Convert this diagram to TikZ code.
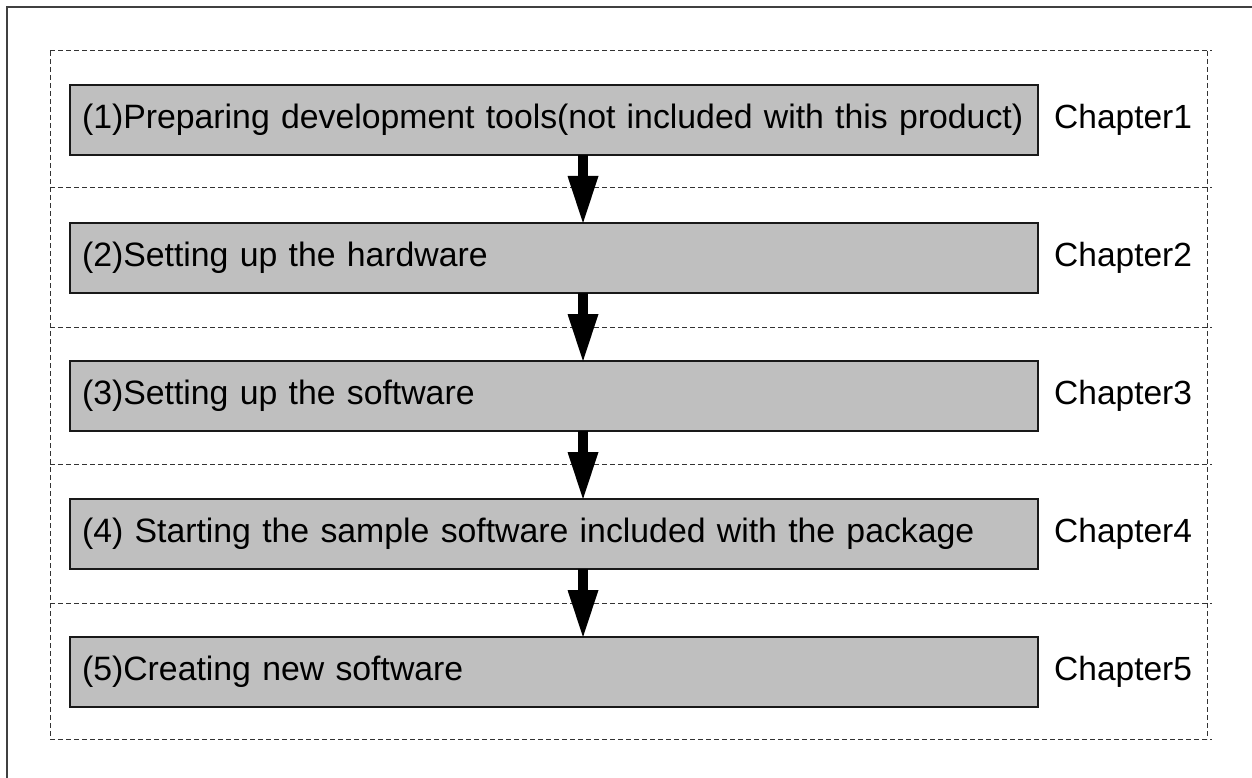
\documentclass[tikz,border=0pt]{standalone}
\usepackage{fontspec}
\setmainfont{Liberation Sans}
\usetikzlibrary{arrows.meta, positioning}

\begin{document}
\begin{tikzpicture}[
  x=1pt, y=-1pt,
  node distance=68pt and 16pt,
  font=\fontsize{33.5}{40}\selectfont,
  stepbox/.style={
    rectangle, draw=black!90, fill=black!25,
    line width=2pt, outer sep=0pt,
    text width=944pt, inner xsep=12pt, inner ysep=0pt,
    minimum height=70pt, align=left,
    font=\fontsize{33.8}{40}\selectfont
  },
  chap/.style={inner sep=0pt, anchor=west},
  sep/.style={draw=black!80, line width=1pt, dash pattern=on 5pt off 3pt},
  arrow/.style={line width=10pt,
    -{Triangle[length=47pt, width=31pt, line width=0pt]}}
]
\useasboundingbox (0,0) rectangle (1252,778);

%% Outer frame
\draw[black!75, line width=2pt] (7,778) -- (7,7) -- (1252,7);

%% Dashed frame and separators
\draw[sep] (50,51) -- (50,739);
\draw[sep] (1207,51) -- (1207,739);
\foreach \y in {51,188,327,464,603,739}
  \draw[sep] (50,\y) -- (1212,\y);

%% Steps
\node[stepbox, anchor=north west] (s1) at (70,85)
  {(1)Preparing development tools(not included with this product)};
\node[stepbox, below=of s1] (s2) {(2)Setting up the hardware};
\node[stepbox, below=of s2] (s3) {(3)Setting up the software};
\node[stepbox, below=of s3] (s4)
  {(4) Starting the sample software included with the package};
\node[stepbox, below=of s4] (s5) {(5)Creating new software};

%% Chapter labels
\node[chap, right=of s1] (ch1) {Chapter1};
\node[chap, right=of s2] (ch2) {Chapter2};
\node[chap, right=of s3] (ch3) {Chapter3};
\node[chap, right=of s4] (ch4) {Chapter4};
\node[chap, right=of s5] (ch5) {Chapter5};

%% Arrows
\coordinate (ax) at (583,0);
\draw[arrow] (s1.south -| ax) -- (s2.north -| ax);
\draw[arrow] (s2.south -| ax) -- (s3.north -| ax);
\draw[arrow] (s3.south -| ax) -- (s4.north -| ax);
\draw[arrow] (s4.south -| ax) -- (s5.north -| ax);

\end{tikzpicture}
\end{document}
